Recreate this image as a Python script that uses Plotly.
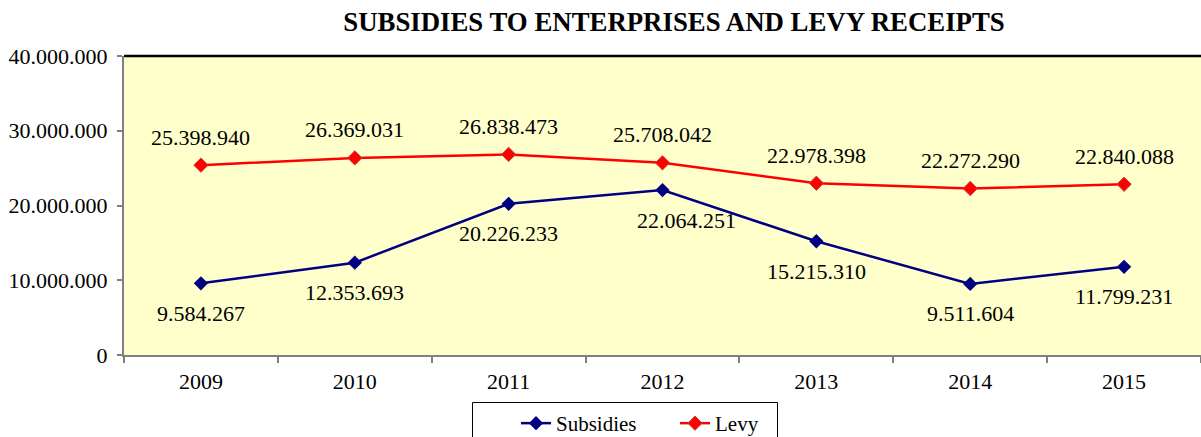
import plotly.graph_objects as go

years = ["2009", "2010", "2011", "2012", "2013", "2014", "2015"]
subsidies = [9584267, 12353693, 20226233, 22064251, 15215310, 9511604, 11799231]
levy = [25398940, 26369031, 26838473, 25708042, 22978398, 22272290, 22840088]
subsidies_labels = ["9.584.267", "12.353.693", "20.226.233", "22.064.251", "15.215.310", "9.511.604", "11.799.231"]
levy_labels = ["25.398.940", "26.369.031", "26.838.473", "25.708.042", "22.978.398", "22.272.290", "22.840.088"]

FONT = "Liberation Serif, Times New Roman, serif"
W, H = 1201, 437
L, T, B = 124, 56, 82
PW, PH = W - L, H - T - B

def px_x(p):
    return (p - L) / PW

def px_y(p):
    return (H - B - p) / PH

fig = go.Figure()
fig.add_trace(go.Scatter(
    x=years, y=subsidies, name="Subsidies", mode="lines+markers",
    line=dict(color="#000080", width=2.5),
    marker=dict(symbol="diamond", size=11, color="#000080"),
))
fig.add_trace(go.Scatter(
    x=years, y=levy, name="Levy", mode="lines+markers",
    line=dict(color="#FF0000", width=2.5),
    marker=dict(symbol="diamond", size=11, color="#FF0000", line=dict(color="#C84040", width=1)),
))

sub_dx = [0, 0, 0, 24, 0, 0, 0]
annotations = []
for i, yr in enumerate(years):
    annotations.append(dict(x=i, y=levy[i], xref="x", yref="y", text=levy_labels[i], showarrow=False,
                            yshift=28, font=dict(family=FONT, size=22, color="black")))
    annotations.append(dict(x=i, y=subsidies[i], xref="x", yref="y", text=subsidies_labels[i], showarrow=False,
                            yshift=-30, xshift=sub_dx[i], font=dict(family=FONT, size=22, color="black")))

fig.update_layout(
    width=W, height=H,
    margin=dict(l=L, r=0, t=T, b=B, autoexpand=False),
    paper_bgcolor="white", plot_bgcolor="#FFFFCC",
    separators=",.",
    font=dict(family=FONT, size=22, color="black"),
    title=dict(text="<b>SUBSIDIES TO ENTERPRISES AND LEVY RECEIPTS</b>",
               x=674 / W, xanchor="center", y=1 - 22 / H, yanchor="middle",
               font=dict(family=FONT, size=26.8, color="black")),
    xaxis=dict(type="category", range=[-0.5, 6.5], showgrid=False, showline=True,
               linecolor="#808080", linewidth=2, ticks="outside", tickson="boundaries",
               ticklen=6, tickcolor="#808080", tickwidth=2, ticklabelstandoff=6,
               automargin=False),
    yaxis=dict(range=[0, 40000000], dtick=10000000, tickformat=",d", showgrid=False,
               zeroline=False, showline=True, linecolor="#808080", linewidth=2,
               ticks="outside", ticklen=5, tickcolor="#808080", tickwidth=2,
               ticklabelstandoff=5, automargin=False),
    legend=dict(orientation="h", x=px_x(516), xanchor="left", y=px_y(403), yanchor="top",
                borderwidth=0, bgcolor="rgba(0,0,0,0)", font=dict(family=FONT, size=21),
                entrywidth=114, entrywidthmode="pixels"),
    showlegend=True,
    annotations=annotations,
    shapes=[
        dict(type="line", xref="paper", yref="paper", x0=0, x1=1, y0=1, y1=1,
             line=dict(color="black", width=2.5)),
        dict(type="rect", xref="paper", yref="paper", x0=px_x(472.5), x1=px_x(777.5),
             y0=px_y(402.5), y1=px_y(450), line=dict(color="black", width=1),
             fillcolor="rgba(0,0,0,0)"),
    ],
)

fig.write_html("out.html", config={"displayModeBar": False},
               post_script="document.body.style.margin='0';document.body.style.overflow='hidden';")
